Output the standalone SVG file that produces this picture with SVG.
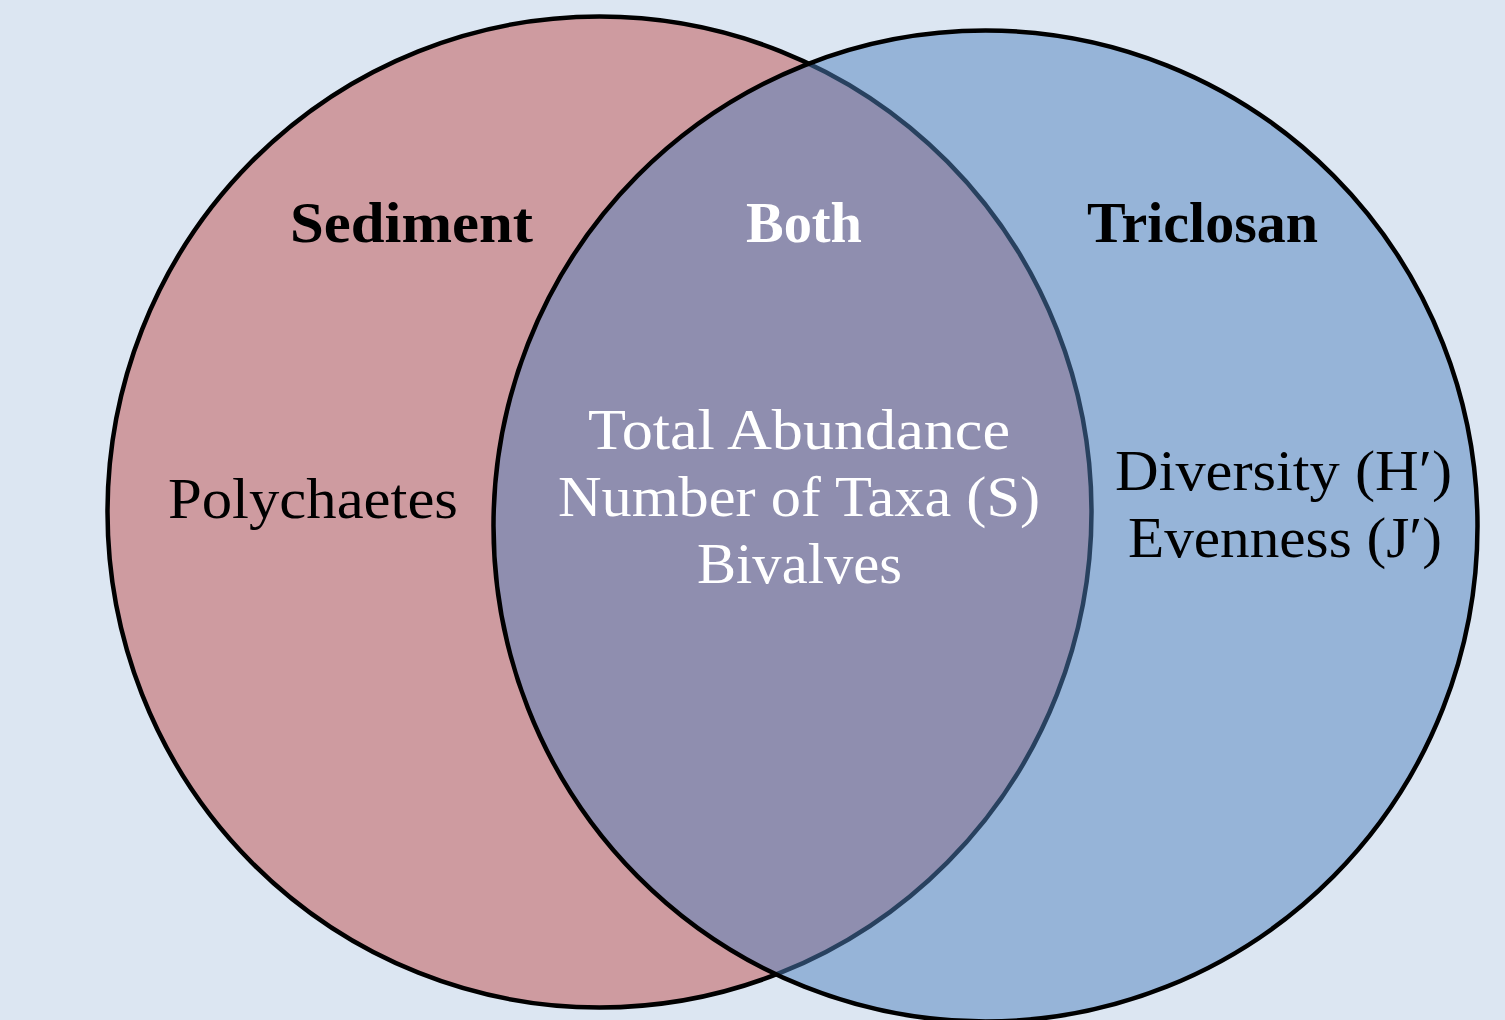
<svg xmlns="http://www.w3.org/2000/svg" width="1505" height="1020" viewBox="0 0 1505 1020">
  <style>
    .set { stroke: #000000; stroke-width: 4.5; }
    .sed { fill: #c0504d; fill-opacity: 0.5; }
    .tri { fill: #4f81bd; fill-opacity: 0.5; }
    .lbl { font-family: "Liberation Serif", "Times New Roman", serif; font-size: 56px; }
    .head { font-weight: bold; }
    .dark { fill: #000000; }
    .light { fill: #ffffff; }
  </style>
  <rect x="0" y="0" width="1505" height="1020" fill="#dce6f2"/>
  <g id="set-sediment">
    <ellipse class="set sed" cx="599.5" cy="512" rx="492" ry="495.5"/>
  </g>
  <g id="set-triclosan">
    <ellipse class="set tri" cx="985.5" cy="526" rx="492" ry="495.5"/>
  </g>
  <g id="connectors"></g>
  <g id="label-sediment">
    <text class="lbl head dark" x="290" y="242" textLength="243" lengthAdjust="spacingAndGlyphs">Sediment</text>
  </g>
  <g id="label-both">
    <text class="lbl head light" x="746" y="242" textLength="116" lengthAdjust="spacingAndGlyphs">Both</text>
  </g>
  <g id="label-triclosan">
    <text class="lbl head dark" x="1087" y="242" textLength="231" lengthAdjust="spacingAndGlyphs">Triclosan</text>
  </g>
  <g id="sediment-items">
    <text class="lbl dark" x="168" y="518" textLength="290" lengthAdjust="spacingAndGlyphs">Polychaetes</text>
  </g>
  <g id="both-items">
    <text class="lbl light" x="588" y="449" textLength="422" lengthAdjust="spacingAndGlyphs">Total Abundance</text>
    <text class="lbl light" x="558" y="516" textLength="482" lengthAdjust="spacingAndGlyphs">Number of Taxa (S)</text>
    <text class="lbl light" x="697" y="583" textLength="205" lengthAdjust="spacingAndGlyphs">Bivalves</text>
  </g>
  <g id="triclosan-items">
    <text class="lbl dark" x="1115" y="490" textLength="337" lengthAdjust="spacingAndGlyphs">Diversity (H′)</text>
    <text class="lbl dark" x="1128" y="557" textLength="314" lengthAdjust="spacingAndGlyphs">Evenness (J′)</text>
  </g>
</svg>
